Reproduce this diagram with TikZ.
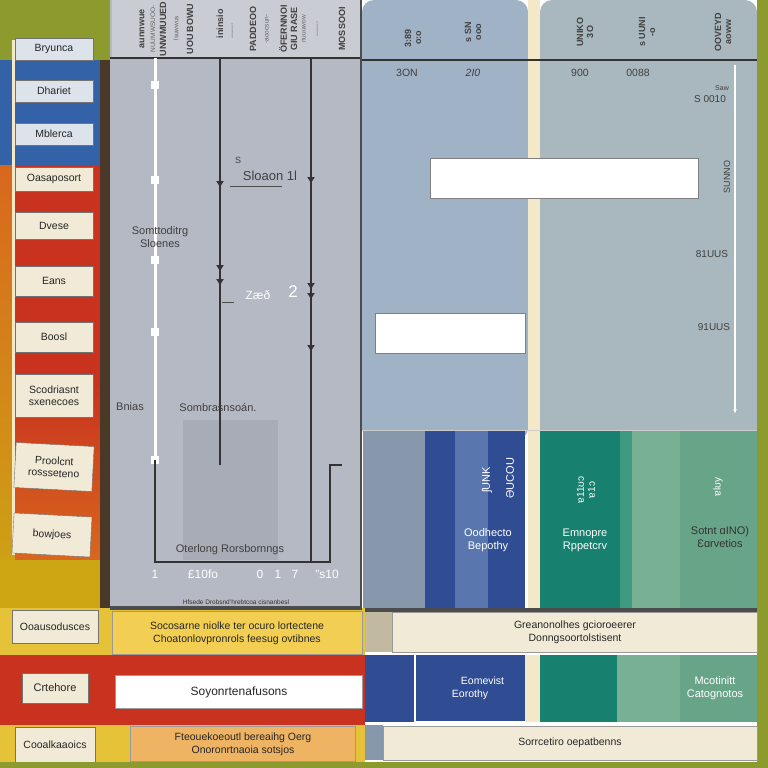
\documentclass[tikz,border=0pt]{standalone}
\usepackage{fontspec}
\setmainfont{Liberation Sans}
\usetikzlibrary{positioning, arrows.meta}
\definecolor{olivebar}{HTML}{8C9A2E}
\definecolor{leftblue}{HTML}{3462A8}
\definecolor{leftred}{HTML}{C8321E}
\definecolor{leftorange}{HTML}{D8671E}
\definecolor{leftyellow}{HTML}{CDA614}
\definecolor{darkstrip}{HTML}{4A3828}
\definecolor{panelgray}{HTML}{B5B9C3}
\definecolor{shadegray}{HTML}{A8ACB6}
\definecolor{headgray}{HTML}{C9CCD2}
\definecolor{slateA}{HTML}{A0B2C6}
\definecolor{slateB}{HTML}{A9B8BE}
\definecolor{slateC}{HTML}{8898AC}
\definecolor{creamstrip}{HTML}{F3E8C8}
\definecolor{boxcream}{HTML}{F1EAD6}
\definecolor{paleblue}{HTML}{DCE3EA}
\definecolor{navy}{HTML}{304C92}
\definecolor{midblue}{HTML}{5A76AE}
\definecolor{teal}{HTML}{18806F}
\definecolor{lightteal}{HTML}{3E9A80}
\definecolor{sage}{HTML}{68A488}
\definecolor{palesage}{HTML}{78B094}
\definecolor{boxyellow}{HTML}{F2CF52}
\definecolor{boxorange}{HTML}{EEB464}
\definecolor{baseyellow}{HTML}{E6C238}
\tikzset{
  sidebox/.style={
    draw=black!55, fill=boxcream, align=center, inner sep=2pt,
    minimum width=78pt, font=\fontsize{10.5}{12}\selectfont, text=black!85
  },
  bluebox/.style={sidebox, fill=paleblue},
  rowbox/.style={
    draw=black!40, align=center, inner sep=2pt,
    font=\fontsize{10.5}{13}\selectfont, text=black!85
  },
  whitebar/.style={draw=black!50, fill=white},
  chartlabel/.style={font=\fontsize{11}{13}\selectfont, text=black!75, align=center},
  chartwhite/.style={font=\fontsize{12}{14}\selectfont, text=white, align=center},
  headtext/.style={rotate=90, font=\fontsize{9}{10}\selectfont\bfseries, text=black!75, align=center, inner sep=1pt},
  headthin/.style={rotate=90, font=\fontsize{6.5}{7}\selectfont, text=black!60, inner sep=1pt},
  columntext/.style={font=\fontsize{11}{13}\selectfont, align=center},
  axisline/.style={line width=1.2pt, black!80},
  guideline/.style={line width=3pt, white},
  tickmark/.style={-{Latex[length=7pt,width=8pt]}, line width=1.2pt, black!80},
}

\begin{document}
\begin{tikzpicture}[x=1pt, y={(0pt,-1pt)}]
  \useasboundingbox (0,0) rectangle (768,768);

  % Left colour column
  \fill[olivebar] (0,0) rectangle (110,60);
  \fill[leftblue] (0,60) rectangle (100,165);
  \shade[top color=leftorange, bottom color=leftyellow] (0,165) rectangle (15,600);
  \fill[leftred] (15,165) rectangle (100,400);
  \shade[top color=leftred, bottom color=leftorange] (15,380) rectangle (100,560);
  \fill[leftyellow] (0,560) rectangle (110,610);
  \fill[darkstrip] (100,60) rectangle (110,608);
  \fill[creamstrip] (12,40) rectangle (15,555);

  % Left labels
  \node[bluebox, minimum height=22pt] (bryunca) at (54,49) {Bryunca};
  \node[bluebox, minimum height=22pt] (dhariet) at (54,91) {Dhariet};
  \node[bluebox, minimum height=22pt] (mblerca) at (54,134) {Mblerca};
  \node[sidebox, minimum height=24pt] (oasa) at (54,179) {Oasaposort};
  \node[sidebox, minimum height=27pt] (dvese) at (54,226) {Dvese};
  \node[sidebox, minimum height=30pt] (eans) at (54,281) {Eans};
  \node[sidebox, minimum height=30pt] (boosl) at (54,337) {Boosl};
  \node[sidebox, minimum height=43pt] (scod) at (54,396) {Scodriasnt\\sxenecoes};
  \node[sidebox, minimum height=45pt, rotate=-3] (proolc) at (54,467) {Proolcnt\\rossseteno};
  \node[sidebox, minimum height=40pt, rotate=-3] (bowjoes) at (52,535) {bowjoes};

  % Middle chart panel
  \fill[panelgray] (110,0) rectangle (362,608);
  \fill[headgray] (112,0) rectangle (360,58);
  \fill[shadegray] (183,420) rectangle (278,560);
  \draw[axisline] (110,58) -- (362,58);
  \draw[line width=2pt, black!70] (361,0) -- (361,608);

  % Header captions
  \node[headtext] (hA) at (142,29) {aunnwue};
  \node[headthin] (hB) at (153,29) {NUUMWSUOO-};
  \node[headtext] (hC) at (163,29) {UNWMUUED};
  \node[headthin] (hD) at (176,29) {~lsuwwus};
  \node[headtext] (hE) at (190,29) {UOU BOWU};
  \node[headtext] (hF) at (220,24) {ininsio};
  \node[headthin] (hG) at (233,31) {-------};
  \node[headtext] (hH) at (253,29) {PADDEOO};
  \node[headthin] (hI) at (267,29) {-aoocsun-};
  \node[headtext] (hJ) at (283,29) {ÖFERNNOI};
  \node[headtext] (hK) at (294,29) {GIU RASE};
  \node[headthin] (hL) at (304,29) {nuuuwow};
  \node[headthin] (hM) at (318,29) {-------};
  \node[headtext] (hN) at (342,29) {MOSSOOI};

  % Chart lines
  \coordinate (wTop) at (155,58);
  \coordinate (wBot) at (155,460);
  \coordinate (cornerL) at (155,562);
  \coordinate (cornerR) at (330,562);
  \coordinate (stepTop) at (330,465);
  \coordinate (stepEnd) at (342,465);
  \coordinate (aTop) at (220,58);
  \coordinate (aBot) at (220,465);
  \coordinate (bTop) at (311,58);
  \coordinate (bBot) at (311,562);
  \draw[guideline] (wTop) -- (wBot);
  \foreach \yy in {85,180,260,332,460}
    \fill[white] (151,\yy-4) rectangle (159,\yy+4);
  \draw[axisline] (wBot) -- (cornerL) -- (cornerR) -- (stepTop) -- (stepEnd);
  \draw[axisline] (aTop) -- (aBot);
  \draw[axisline] (bTop) -- (bBot);
  \foreach \yy in {188,272,286}
    \draw[tickmark] (220,\yy-8) -- (220,\yy);
  \foreach \yy in {184,290,300,352}
    \draw[tickmark] (311,\yy-8) -- (311,\yy);
  \draw[line width=0.8pt, black!70] (222,302) -- (234,302);
  \draw[line width=0.8pt, black!70] (230,186) -- (282,186);

  % Chart labels
  \node[chartlabel, font=\fontsize{9}{10}\selectfont] (sMark) at (238,160) {S};
  \node[chartlabel, font=\fontsize{13}{15}\selectfont] (logon) at (270,176) {Sloaon 1l};
  \node[chartlabel] (somt) at (160,237) {Somttoditrg\\Sloenes};
  \node[chartwhite] (zaed) at (258,295) {Zæð};
  \node[chartwhite, font=\fontsize{17}{19}\selectfont] (two) at (293,292) {2};
  \node[chartlabel] (bnias) at (130,407) {Bnias};
  \node[chartlabel] (sombr) at (218,407) {Sombrasnsoán.};
  \node[chartlabel] (oterlong) at (230,550) {Oterlong Rorsbornngs};
  \node[chartwhite] (ax1) at (155,574) {1};
  \node[chartwhite] (ax2) at (203,574) {£10fo};
  \node[chartwhite] (ax3) at (260,574) {0};
  \node[chartwhite] (ax4) at (278,574) {1};
  \node[chartwhite] (ax5) at (295,574) {7};
  \node[chartwhite] (ax6) at (327,574) {"s10};
  \node[font=\fontsize{6.5}{7}\selectfont, text=black!80] (caption) at (236,602)
    {Hfsede Drobsnd'hrebtcoa cisnanbesl};

  % Right panels
  \fill[slateA, rounded corners=12pt] (362,0) rectangle (528,440);
  \fill[slateA] (362,200) rectangle (528,430);
  \fill[creamstrip] (528,0) rectangle (540,608);
  \fill[slateB, rounded corners=12pt] (540,0) rectangle (757,440);
  \fill[slateB] (540,200) rectangle (757,430);
  \fill[olivebar] (757,0) rectangle (768,768);
  \draw[axisline] (362,60) -- (757,60);

  % Right header captions
  \node[headtext] (rA) at (413,38) {3:89\\o:o};
  \node[headtext] (rB) at (473,32) {s SN\\ooo};
  \node[headtext] (rC) at (585,32) {UNIKO\\3O};
  \node[headtext] (rD) at (647,32) {s UUNI\\-o};
  \node[headtext] (rE) at (723,32) {OOVEYD\\aoww};
  \node[chartlabel, font=\fontsize{10.5}{12}\selectfont] (v1) at (407,73) {3ON};
  \node[chartlabel, font=\fontsize{10.5}{12}\selectfont\itshape] (v2) at (473,73) {2I0};
  \node[chartlabel, font=\fontsize{10.5}{12}\selectfont] (v3) at (580,73) {900};
  \node[chartlabel, font=\fontsize{10.5}{12}\selectfont] (v4) at (638,73) {0088};
  \node[chartlabel, font=\fontsize{7}{8}\selectfont] (v5) at (722,88) {Saw};
  \node[chartlabel, font=\fontsize{10}{12}\selectfont] (v6) at (710,99) {S 0010};
  \node[headtext, font=\fontsize{9}{10}\selectfont] (v7) at (727,177) {SUNNO};
  \node[chartlabel, font=\fontsize{10}{12}\selectfont] (v8) at (712,254) {81UUS};
  \node[chartlabel, font=\fontsize{10}{12}\selectfont] (v9) at (714,327) {91UUS};

  % Bars and guide
  \node[whitebar, minimum width=268pt, minimum height=40pt] (barA) at (564,178) {};
  \node[whitebar, minimum width=150pt, minimum height=40pt] (barB) at (450,333) {};
  \coordinate (gTop) at (735,65);
  \coordinate (gBot) at (735,414);
  \draw[white, line width=2.5pt, -{Latex[length=5pt]}] (gTop) -- (gBot);

  % Lower right columns
  \fill[slateC] (363,430) rectangle (425,608);
  \fill[navy] (425,430) rectangle (525,608);
  \fill[midblue] (455,430) rectangle (488,608);
  \fill[teal] (540,430) rectangle (620,608);
  \fill[lightteal] (620,430) rectangle (632,608);
  \fill[palesage] (632,430) rectangle (680,608);
  \fill[sage] (680,430) rectangle (757,608);
  \draw[white!80!black, line width=1pt] (363,430) -- (757,430);
  \node[headtext, text=white, font=\fontsize{11}{12}\selectfont] (cA) at (487,480) {ʃUNK};
  \node[headtext, text=white, font=\fontsize{11}{12}\selectfont] (cB) at (510,478) {ƏUCOU};
  \node[columntext, text=white] (cC) at (488,540) {Oodhecto\\Bepothy};
  \node[headtext, text=white, font=\fontsize{10}{11}\selectfont] (cD) at (586,490) {ɐ11ʊɔ\\ɐ1ɔ};
  \node[columntext, text=white] (cE) at (585,540) {Emnopre\\Rppetcrv};
  \node[headtext, text=white, font=\fontsize{10}{11}\selectfont] (cF) at (718,487) {ɐlʊy};
  \node[columntext, text=black!80] (cG) at (720,537) {Sotnt ɑINO)\\Ɛɑrvetios};

  % Lower right rows
  \fill[black!70] (362,608) rectangle (757,612);
  \fill[creamstrip!80!black] (362,612) rectangle (392,652);
  \node[rowbox, fill=boxcream, minimum width=365pt, minimum height=40pt] (grean) at (575,632)
    {Greanonolhes gcioroeerer\\Donngsoortolstisent};
  \fill[navy] (363,655) rectangle (414,722);
  \node[rowbox, fill=navy, draw=white!70, minimum width=110pt, minimum height=67pt,
    text=white] (eomev) at (470,688) {\hspace*{25pt}Eomevist\\Eorothy};
  \fill[creamstrip] (525,655) rectangle (540,722);
  \fill[teal] (540,655) rectangle (617,722);
  \fill[palesage] (617,655) rectangle (757,722);
  \fill[sage] (680,655) rectangle (757,722);
  \node[columntext, text=white] (mcot) at (715,688) {Mcotinitt\\Catognotos};
  \node[rowbox, fill=boxcream, minimum width=374pt, minimum height=34pt] (sorr) at (570,743)
    {Sorrcetiro oepatbenns};
  \fill[slateC] (362,725) rectangle (383,760);

  % Lower left rows
  \fill[baseyellow] (0,608) rectangle (365,768);
  \fill[leftred] (0,655) rectangle (365,725);
  \fill[black!70] (110,606) rectangle (362,610);
  \node[rowbox, fill=boxyellow, minimum width=250pt, minimum height=43pt] (socos) at (237,633)
    {Socosarne niolke ter ocuro lortectene\\Choatonlovpronrols feesug ovtibnes};
  \node[rowbox, fill=white, minimum width=247pt, minimum height=33pt, font=\fontsize{12}{14}\selectfont] (soyon) at (239,692)
    {Soyonrtenafusons};
  \node[rowbox, fill=boxorange, minimum width=225pt, minimum height=35pt] (fteou) at (243,744)
    {Fteouekoeoutl bereaihg Oerg\\Onoronrtnaoia sotsjos};
  \node[sidebox, minimum width=86pt, minimum height=33pt] (ooaus) at (55,627) {Ooausodusces};
  \node[sidebox, minimum width=66pt, minimum height=30pt, font=\fontsize{11}{12}\selectfont] (crteh) at (55,688) {Crtehore};
  \node[sidebox, minimum width=80pt, minimum height=35pt] (cooal) at (55,745) {Cooalkaaoics};
  \fill[olivebar] (0,762) rectangle (768,768);
\end{tikzpicture}
\end{document}
